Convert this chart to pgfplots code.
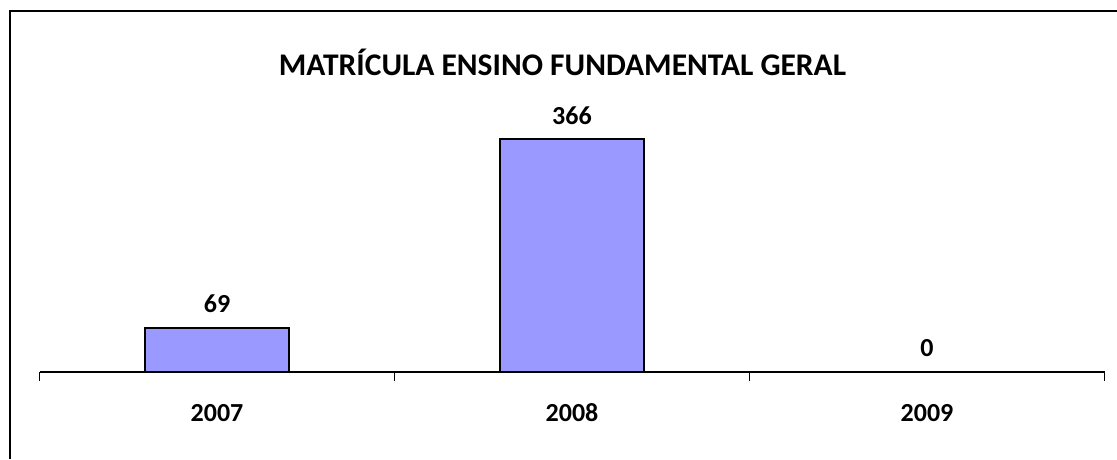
\documentclass[border=0pt]{standalone}
\usepackage{pgfplots}
\pgfplotsset{compat=1.18}
\usepackage{fontspec}
\setmainfont{Carlito}
\definecolor{barblue}{HTML}{9999FF}
\begin{document}
\begin{tikzpicture}
\begin{axis}[
  at={(217pt,87pt)}, anchor=origin,
  scale only axis, width=1065pt, height=300pt,
  xmin=-0.5, xmax=2.5, ymin=0, ymax=471.7,
  axis x line*=bottom, hide y axis,
  axis line style={line width=2pt},
  xtick={0,1,2}, xticklabels={2007,2008,2009},
  major tick length=0pt,
  minor xtick={-0.5,0.5,1.5,2.5}, minor tick length=9pt,
  tick align=outside,
  minor tick style={black, line width=1.5pt},
  xticklabel style={font=\fontsize{26pt}{30pt}\selectfont\bfseries, anchor=center, yshift=-41pt},
  /pgf/number format/assume math mode=true,
  clip=false,
  ybar, bar width=144pt,
  nodes near coords,
  every node near coord/.append style={font=\fontsize{26pt}{30pt}\selectfont\bfseries, anchor=center, yshift=24pt},
]
\addplot[fill=barblue, draw=black, line width=1.5pt] coordinates {(0,69) (1,366) (2,0)};
\end{axis}
\draw[line width=1.5pt] (10pt,0pt) -- (10pt,448pt) -- (1117pt,448pt);
\node[font=\fontsize{31.5pt}{36pt}\selectfont\bfseries] at (562.5pt,397pt) {MATRÍCULA ENSINO FUNDAMENTAL GERAL};
\pgfresetboundingbox
\useasboundingbox (0pt,0pt) rectangle (1117pt,459pt);
\end{tikzpicture}
\end{document}
